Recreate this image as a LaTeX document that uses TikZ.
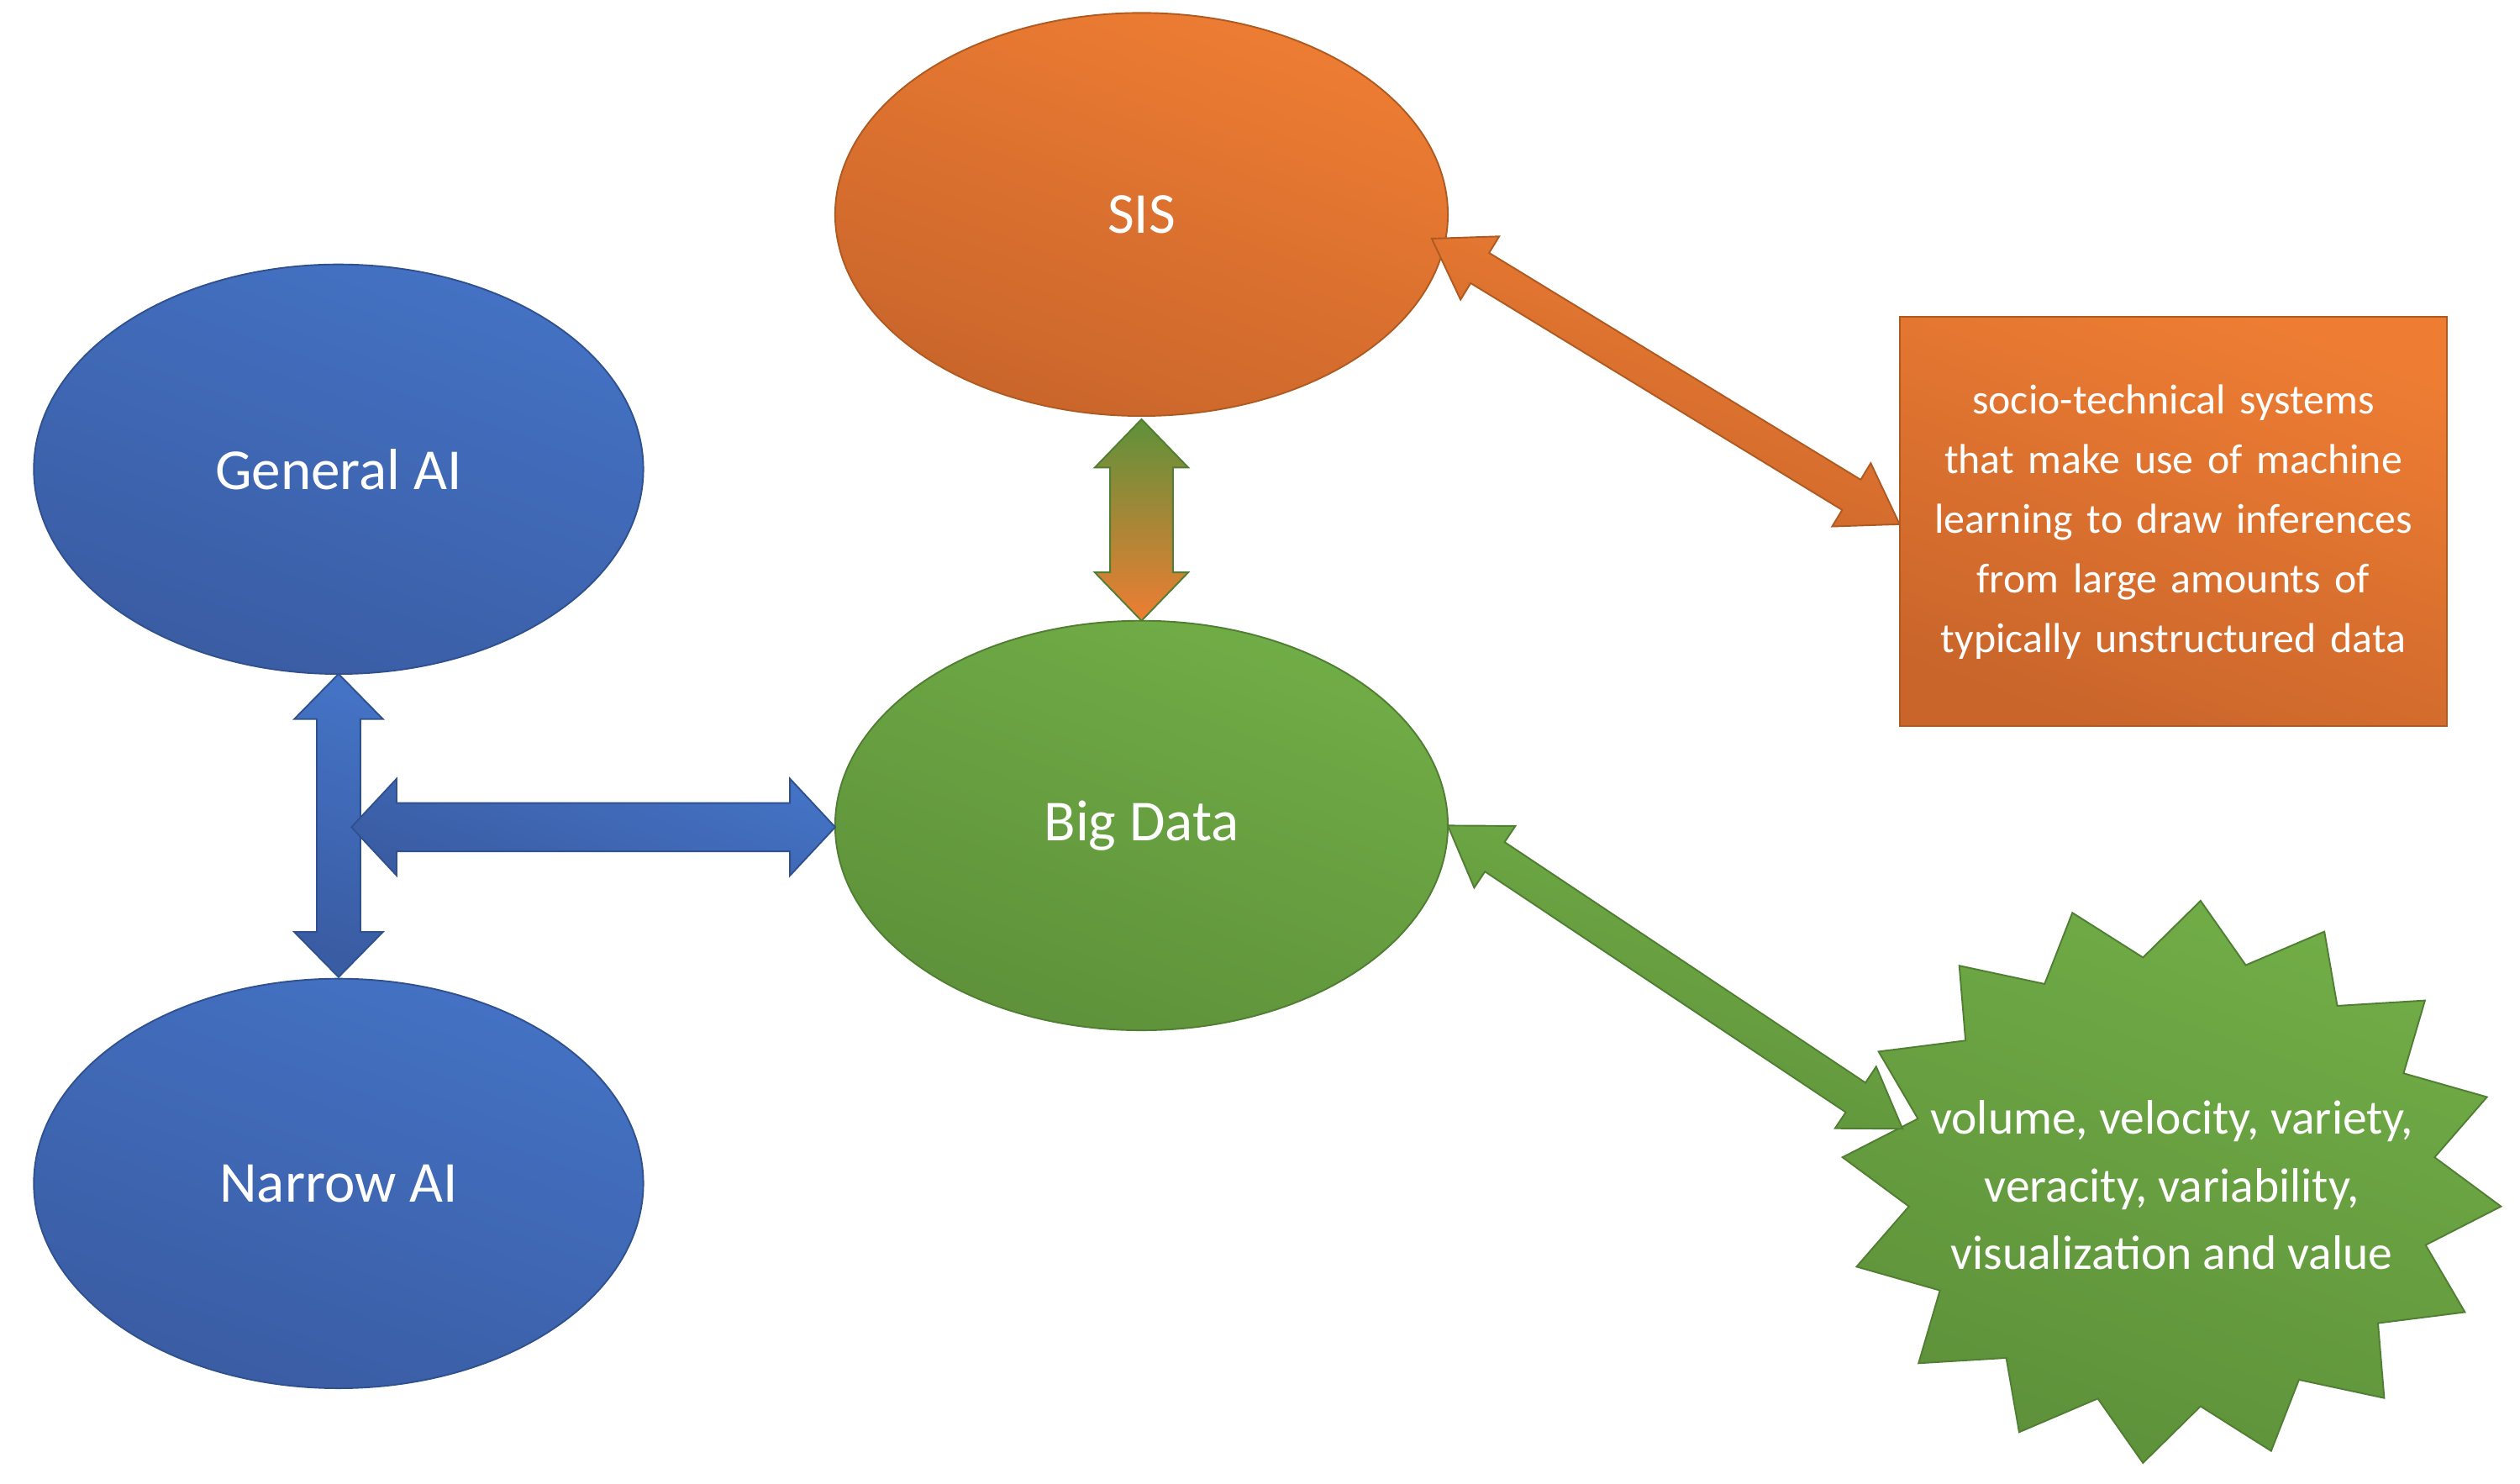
\documentclass[tikz,border=0pt]{standalone}
\usepackage{fontspec}
\setmainfont{Carlito}
\begin{document}
\definecolor{bA}{HTML}{4472C4}\definecolor{bB}{HTML}{3A5CA3}\definecolor{bE}{HTML}{2F528F}
\definecolor{oA}{HTML}{EE7D33}\definecolor{oB}{HTML}{C9652B}\definecolor{oE}{HTML}{AE5A21}
\definecolor{gA}{HTML}{71AD47}\definecolor{gB}{HTML}{5E913A}\definecolor{gE}{HTML}{507E32}
\begin{tikzpicture}[x=1pt,y=-1pt,
  blue/.style={top color=bA,bottom color=bB,shading angle=-20,draw=bE,line width=1pt},
  orange/.style={top color=oA,bottom color=oB,shading angle=-20,draw=oE,line width=1pt},
  green/.style={top color=gA,bottom color=gB,shading angle=-20,draw=gE,line width=1pt},
  ell/.style={ellipse,minimum width=378pt,minimum height=254pt,text=white,font=\fontsize{36}{40}\selectfont},
  pics/dbl/.style n args={4}{code={\path[pic actions] (0,0) -- (#4,#3) -- (#4,#2) -- (#1-#4,#2) -- (#1-#4,#3) -- (#1,0) -- (#1-#4,-#3) -- (#1-#4,-#2) -- (#4,-#2) -- (#4,-#3) -- cycle;}}]
\useasboundingbox (0,0) rectangle (1563,920);
\usetikzlibrary{shapes.geometric}
\node[ell,blue] (gen) at (210,291) {General AI};
\node[ell,blue] (nar) at (210,734) {Narrow AI};
\node[ell,orange,minimum height=250pt,minimum width=380pt] (sis) at (708,133) {SIS};
\node[ell,green,minimum width=380pt] (big) at (708,512) {Big Data};
\node[orange,minimum width=339pt,minimum height=254pt,text width=320pt,align=center,text=white,font=\fontsize{26}{37}\selectfont,anchor=north west] (box) at (1178,196) {socio-technical systems that make use of machine learning to draw inferences from large amounts of typically unstructured data};
% starburst
\draw[green] plot[samples=33,domain=0:32] ({1347+205*(1-0.2*mod(\x,2))*cos(\x*11.25+5)},{733+175*(1-0.2*mod(\x,2))*sin(\x*11.25+5)}) -- cycle;
\node[text=white,align=center,font=\fontsize{30}{42}\selectfont] (burst) at (1347,735) {volume, velocity, variety,\\veracity, variability,\\visualization and value};
% arrows
\pic[blue] at (210,418) [rotate=-90] {dbl={188}{13.5}{27.5}{28}};
\pic[blue] at (218,513) {dbl={300}{15}{30}{28}};
\pic[top color=gB,bottom color=oA,shading angle=0,draw=gE,line width=1pt] at (708,260) [rotate=-90] {dbl={125}{19.5}{29}{30}};
\pic[orange] at (888,148) [rotate=-31.4] {dbl={340}{11}{23}{35}};
\pic[green] at (898,512) [rotate=-33.7] {dbl={339}{11}{23}{35}};
\end{tikzpicture}
\end{document}
